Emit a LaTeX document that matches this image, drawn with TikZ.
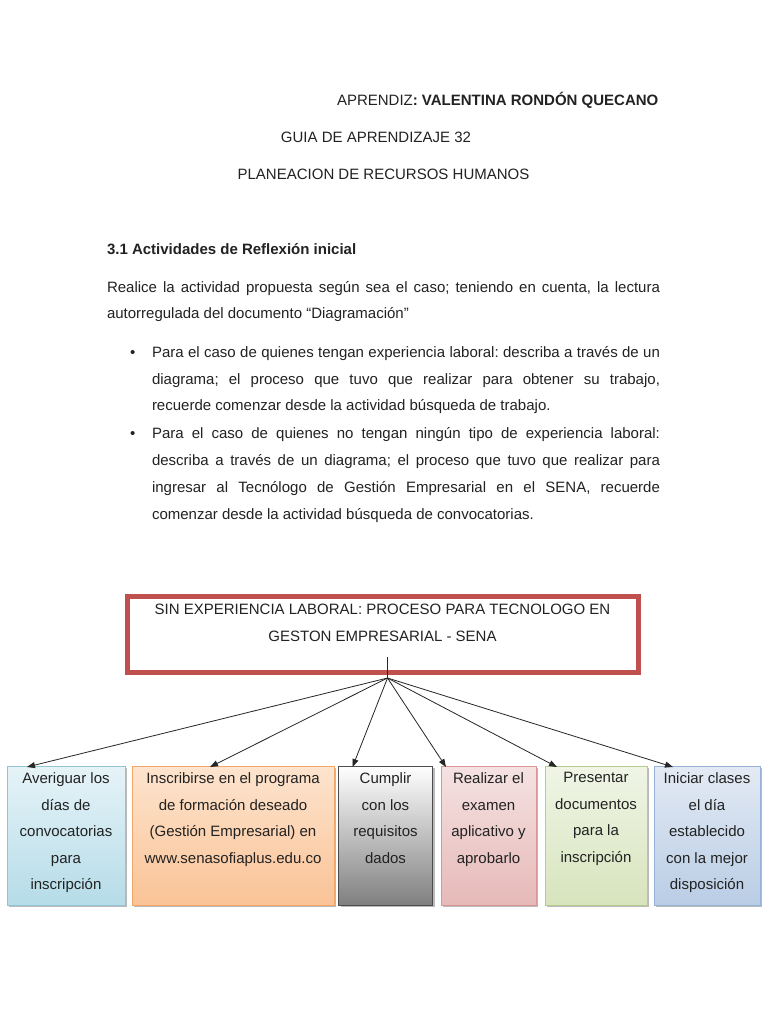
\documentclass[tikz,border=0pt]{standalone}
\usepackage{fontspec}
\setmainfont{Liberation Sans}
\usetikzlibrary{arrows.meta,shadows,calc}
\definecolor{txt}{HTML}{222222}
\definecolor{redb}{HTML}{C0504D}
\definecolor{c1t}{HTML}{E6F3F8}\definecolor{c1b}{HTML}{B5DCE8}\definecolor{c1d}{HTML}{93C4D4}
\definecolor{c2t}{HTML}{FDE4CE}\definecolor{c2b}{HTML}{FAC396}\definecolor{c2d}{HTML}{F2A668}
\definecolor{c4t}{HTML}{F5E2E2}\definecolor{c4b}{HTML}{E6B9B8}\definecolor{c4d}{HTML}{D99694}
\definecolor{c5t}{HTML}{F0F5E6}\definecolor{c5b}{HTML}{D7E4BD}\definecolor{c5d}{HTML}{B5CC8E}
\definecolor{c6t}{HTML}{E3EAF4}\definecolor{c6b}{HTML}{B9CDE5}\definecolor{c6d}{HTML}{95B3D7}
\newcommand{\jline}[2]{\hbox to #1{\spaceskip=.278em plus 1fil minus .12em #2}}
\begin{document}
\frenchspacing
\begin{tikzpicture}[x=1pt,y=-1pt,
  every node/.style={inner sep=0pt,outer sep=0pt,text=txt,font=\fontsize{15}{17}\selectfont},
  line/.style={anchor=base west},
  hdr/.style={anchor=base},
  box/.style={draw,minimum width=#1,minimum height=139pt,anchor=north west,
    drop shadow={shadow xshift=2pt,shadow yshift=-2pt,fill=black!45,opacity=.6}},
  btext/.style={anchor=north,align=center,font=\fontsize{15}{26.5}\selectfont},
  arr/.style={draw=black!85,line width=.8pt,-{Triangle[length=8pt,width=6pt]}}]
\useasboundingbox (0,0) rectangle (768,1024);
\fill[white] (0,0) rectangle (768,1024);
% header
\node[line] (h1) at (337,106) {APRENDIZ\textbf{: VALENTINA RONDÓN QUECANO}};
\node[hdr] (h2) at (376,143) {GUIA DE APRENDIZAJE 32};
\node[hdr] (h3) at (383.5,180) {PLANEACION DE RECURSOS HUMANOS};
\node[line] (s1) at (107,254) {\textbf{3.1 Actividades de Reflexión inicial}};
\node[line] (p1) at (107,292) {\jline{553pt}{Realice la actividad propuesta según sea el caso; teniendo en cuenta, la lectura}};
\node[line] (p2) at (107,318) {autorregulada del documento “Diagramación”};
% bullets
\node[line] (d1) at (130,357) {•};
\node[line] (l1) at (152,357) {\jline{508pt}{Para el caso de quienes tengan experiencia laboral: describa a través de un}};
\node[line] (l2) at (152,384) {\jline{508pt}{diagrama; el proceso que tuvo que realizar para obtener su trabajo,}};
\node[line] (l3) at (152,410) {recuerde comenzar desde la actividad búsqueda de trabajo.};
\node[line] (d2) at (130,438) {•};
\node[line] (l4) at (152,438) {\jline{508pt}{Para el caso de quienes no tengan ningún tipo de experiencia laboral:}};
\node[line] (l5) at (152,465) {\jline{508pt}{describa a través de un diagrama; el proceso que tuvo que realizar para}};
\node[line] (l6) at (152,492) {\jline{508pt}{ingresar al Tecnólogo de Gestión Empresarial en el SENA, recuerde}};
\node[line] (l7) at (152,519) {comenzar desde la actividad búsqueda de convocatorias.};
% title box
\node[draw=redb,line width=5pt,minimum width=511pt,minimum height=76pt,anchor=north west] (title) at (127.5,596.5) {};
\node[hdr] (tt1) at (382.5,614.5) {SIN EXPERIENCIA LABORAL: PROCESO PARA TECNOLOGO EN};
\node[hdr] (tt2) at (382.5,641.5) {GESTON EMPRESARIAL - SENA};
\coordinate (top) at (387.5,657);
\coordinate (hub) at (387.5,678);
\draw[black!85,line width=.8pt] (top) -- (hub);
% boxes
\node[box=118pt,draw=c1d,top color=c1t,bottom color=c1b] (b1) at (7,766) {};
\node[box=202pt,draw=c2d,top color=c2t,bottom color=c2b] (b2) at (132,766) {};
\node[box=94pt,draw=black!70,top color=white,bottom color=black!50] (b3) at (338.5,766) {};
\node[box=95pt,draw=c4d,top color=c4t,bottom color=c4b] (b4) at (441,766) {};
\node[box=102pt,draw=c5d,top color=c5t,bottom color=c5b] (b5) at (545,766) {};
\node[box=106pt,draw=c6d,top color=c6t,bottom color=c6b] (b6) at (654,766) {};
\node[btext] (t1) at (66,773) {Averiguar los\\días de\\convocatorias\\para\\inscripción};
\node[btext] (t2) at (233,773) {Inscribirse en el programa\\de formación deseado\\(Gestión Empresarial) en\\www.senasofiaplus.edu.co};
\node[btext] (t3) at (385.5,773) {Cumplir\\con los\\requisitos\\dados};
\node[btext] (t4) at (488.5,773) {Realizar el\\examen\\aplicativo y\\aprobarlo};
\node[btext] (t5) at (596,772.5) {Presentar\\documentos\\para la\\inscripción};
\node[btext] (t6) at (707,773) {Iniciar clases\\el día\\establecido\\con la mejor\\disposición};
% arrows
\draw[arr] (hub) -- ([xshift=20pt,yshift=-1pt]b1.north west);
\draw[arr] (hub) -- ([xshift=78pt,yshift=-1pt]b2.north west);
\draw[arr] (hub) -- ([xshift=14pt,yshift=-1pt]b3.north west);
\draw[arr] (hub) -- ([xshift=5pt,yshift=-1pt]b4.north west);
\draw[arr] (hub) -- ([xshift=12pt,yshift=-1pt]b5.north west);
\draw[arr] (hub) -- ([xshift=19pt,yshift=-1pt]b6.north west);
\end{tikzpicture}
\end{document}
